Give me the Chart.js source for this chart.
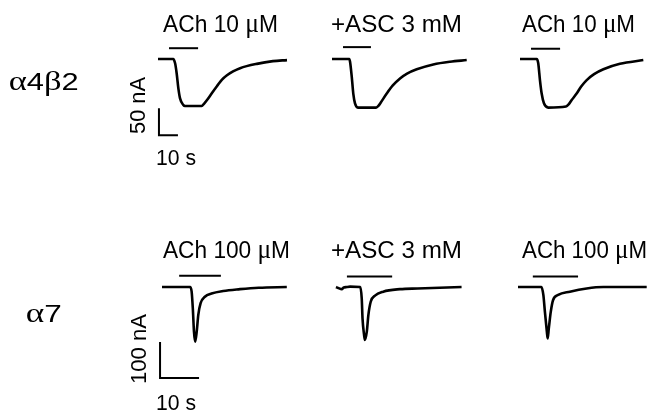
<!DOCTYPE html>
<html><head><meta charset="utf-8">
<script src="https://cdn.jsdelivr.net/npm/chart.js@4/dist/chart.umd.min.js"></script>
<style>html,body{margin:0;padding:0;background:#fff;overflow:hidden}canvas{display:block}</style>
</head><body>
<canvas id="c" width="652" height="412"></canvas>
<script>
// ---------- DATA (time in s from trace start, current in nA) ----------
// alpha4beta2 row
const a4b2_ach1_t = [0, 8, 9, 9.8, 10.7, 11.6, 13.3, 14.2, 23, 24.2, 25.8, 28.4, 31.1, 33.7, 36.3, 39.5, 43.2, 52, 60.5, 67.9];
const a4b2_ach1_i = [0, 0, -8, -26, -54, -73, -85, -87, -87, -83, -76, -63, -50, -38, -30, -23, -17, -9, -4, -2];
const a4b2_asc_t  = [0, 9.1, 9.5, 10.4, 11.2, 12.1, 13.9, 23.2, 24.4, 25.6, 28.8, 32, 35.8, 39.5, 44.6, 53.3, 62.1, 70.9];
const a4b2_asc_i  = [0, 0, -5, -33, -64, -82, -90, -90, -87, -81, -64, -49, -36, -27, -19, -10, -5, -2];
const a4b2_ach2_t = [0, 8.8, 9.6, 10.5, 11.4, 12.6, 14.9, 24.2, 25.6, 27.2, 29.8, 32.2, 35.1, 39, 43.9, 52.6, 64.9];
const a4b2_ach2_i = [0, 0, -8, -39, -64, -82, -90, -88, -84, -76, -64, -51, -39, -28, -19, -9, -2];
// alpha7 row
const a7_ach1_t = [0, 7.2, 7.6, 7.9, 8.2, 8.5, 8.9, 9.3, 9.9, 11, 12.7, 15.7, 20, 24.8, 32];
const a7_ach1_i = [0, 0, -13, -59, -124, -152, -124, -78, -45, -27, -18, -11, -6, -2, 0];
const a7_asc_t  = [0, 0.6, 1.5, 1.9, 2.8, 3.6, 6.2, 6.6, 6.8, 7.2, 7.4, 7.9, 8.3, 8.9, 10, 12.1, 16.4, 20.9, 32.2];
const a7_asc_i  = [0, -3, -6, -2, 0, 1, 0, -32, -87, -133, -147, -124, -78, -41, -24, -13, -6, -4, 0];
const a7_ach2_t = [0, 6, 6.5, 6.9, 7.4, 7.6, 7.9, 8.4, 9, 10.3, 13.3, 17.6, 21.9, 33];
const a7_ach2_i = [0, 0, -22, -69, -124, -143, -115, -69, -36, -22, -13, -4, 0, 0];
// drug application bars: [start s, end s, level nA]
const a4b2_bars = [[5.8, 21.1, 20], [5.8, 20.5, 22], [5.8, 21.1, 19]];
const a7_bars   = [[4.4, 15.1, 31], [2.8, 14.4, 29], [3.8, 15.4, 29]];
// scale bars: [seconds, nA]
const a4b2_scale = [10, 50];
const a7_scale   = [10, 100];
// labels
const receptorLabels = ['α4β2', 'α7'];
const a4b2_conditions = ['ACh 10 μM', '+ASC 3 mM', 'ACh 10 μM'];
const a7_conditions   = ['ACh 100 μM', '+ASC 3 mM', 'ACh 100 μM'];
const scaleLabels = { a4b2: ['50 nA', '10 s'], a7: ['100 nA', '10 s'] };

// ---------- LAYOUT ----------
const W = 652, H = 412;
const TOP = { pxPerS: 1.9, pxPerNA: 0.54, baseY: 59, starts: [158, 332, 520], scaleOff: [0.5, -141] };
const BOT = { pxPerS: 3.9, pxPerNA: 0.36, baseY: 287, starts: [162, 336, 518], scaleOff: [-0.5, -253] };

function xr(r) { return { min: 0, max: W / r.pxPerS }; }
function yr(r) { return { min: -(H - r.baseY) / r.pxPerNA, max: r.baseY / r.pxPerNA }; }

const datasets = [];
function addLine(pts, xa, ya, smooth, lw) {
  datasets.push({
    data: pts, xAxisID: xa, yAxisID: ya,
    borderColor: '#000', borderWidth: lw, pointRadius: 0,
    cubicInterpolationMode: smooth ? 'monotone' : 'default', tension: 0,
    borderCapStyle: 'butt', borderJoinStyle: smooth ? 'round' : 'miter', fill: false
  });
}
function addRow(r, traces, bars, scale, xa, ya) {
  traces.forEach(([T, I], k) => {
    const off = r.starts[k] / r.pxPerS;
    addLine(T.map((t, j) => ({ x: off + t, y: I[j] })), xa, ya, true, 2.6);
    const b = bars[k];
    addLine([{ x: off + b[0], y: b[2] }, { x: off + b[1], y: b[2] }], xa, ya, false, 2);
  });
  const s0 = r.starts[0] / r.pxPerS + r.scaleOff[0], i0 = r.scaleOff[1];
  addLine([{ x: s0, y: i0 + scale[1] }, { x: s0, y: i0 }, { x: s0 + scale[0], y: i0 }], xa, ya, false, 2);
}
addRow(TOP, [[a4b2_ach1_t, a4b2_ach1_i], [a4b2_asc_t, a4b2_asc_i], [a4b2_ach2_t, a4b2_ach2_i]], a4b2_bars, a4b2_scale, 'xTop', 'yTop');
addRow(BOT, [[a7_ach1_t, a7_ach1_i], [a7_asc_t, a7_asc_i], [a7_ach2_t, a7_ach2_i]], a7_bars, a7_scale, 'xBot', 'yBot');

// text items: [text, x, baselineY, fontPx, rotate(bool), targetWidth]
const SANS = "'Liberation Sans', Arial, sans-serif";
const SERIF = "'Liberation Serif', 'Times New Roman', serif";
const texts = [
  [a4b2_conditions[0], 163, 32, 24, false, 115],
  [a4b2_conditions[1], 332, 32, 24, false, 131],
  [a4b2_conditions[2], 522, 32, 24, false, 113],
  [a7_conditions[0], 163, 258, 23.5, false, 127],
  [a7_conditions[1], 332, 258, 23.5, false, 131],
  [a7_conditions[2], 522, 258, 23.5, false, 125],
  [scaleLabels.a4b2[1], 157, 165, 22.5, false, 40],
  [scaleLabels.a7[1], 157, 410, 22.5, false, 40],
  [scaleLabels.a4b2[0], 144.5, 134, 22.5, true, 57],
  [scaleLabels.a7[0], 145.5, 383, 22.5, true, 70],
  [receptorLabels[0], 10, 90, 24, false, 70],
  [receptorLabels[1], 27, 322, 24, false, 36]
];
const isGreek = (ch) => /[\u0370-\u03FF\u00B5]/.test(ch);
function runs(s) {
  const out = [];
  for (const ch of s) {
    const g = isGreek(ch);
    if (out.length && out[out.length - 1].g === g) out[out.length - 1].s += ch;
    else out.push({ s: ch, g });
  }
  return out;
}

const textPlugin = {
  id: 'labels',
  afterDraw(chart) {
    const ctx = chart.ctx;
    ctx.save();
    ctx.fillStyle = '#000';
    ctx.textBaseline = 'alphabetic';
    ctx.textAlign = 'left';
    texts.forEach(([s, x, y, fs, rot, tw]) => {
      const parts = runs(s).map(p => {
        const font = p.g ? (fs * 1.12) + 'px ' + SERIF : fs + 'px ' + SANS;
        ctx.font = font;
        return { s: p.s, font, w: ctx.measureText(p.s).width };
      });
      ctx.font = parts[0].font;
      const left = ctx.measureText(parts[0].s).actualBoundingBoxLeft;
      const total = parts.reduce((a, p) => a + p.w, 0);
      const sc = tw ? tw / total : 1;
      ctx.save();
      ctx.translate(x, y);
      if (rot) ctx.rotate(-Math.PI / 2);
      ctx.scale(sc, 1);
      let cx = left;
      parts.forEach(p => { ctx.font = p.font; ctx.fillText(p.s, cx, 0); cx += p.w; });
      ctx.restore();
    });
    ctx.restore();
  }
};

const hidden = (o) => Object.assign({ type: 'linear', display: false }, o);
new Chart(document.getElementById('c'), {
  type: 'line',
  data: { datasets },
  options: {
    responsive: false, animation: false, parsing: false, normalized: true,
    layout: { padding: 0 },
    plugins: { legend: { display: false }, tooltip: { enabled: false }, title: { display: false } },
    scales: {
      xTop: hidden(Object.assign({ position: 'bottom' }, xr(TOP))),
      yTop: hidden(Object.assign({ position: 'left' }, yr(TOP))),
      xBot: hidden(Object.assign({ position: 'bottom' }, xr(BOT))),
      yBot: hidden(Object.assign({ position: 'left' }, yr(BOT)))
    }
  },
  plugins: [textPlugin]
});
</script>
</body></html>
